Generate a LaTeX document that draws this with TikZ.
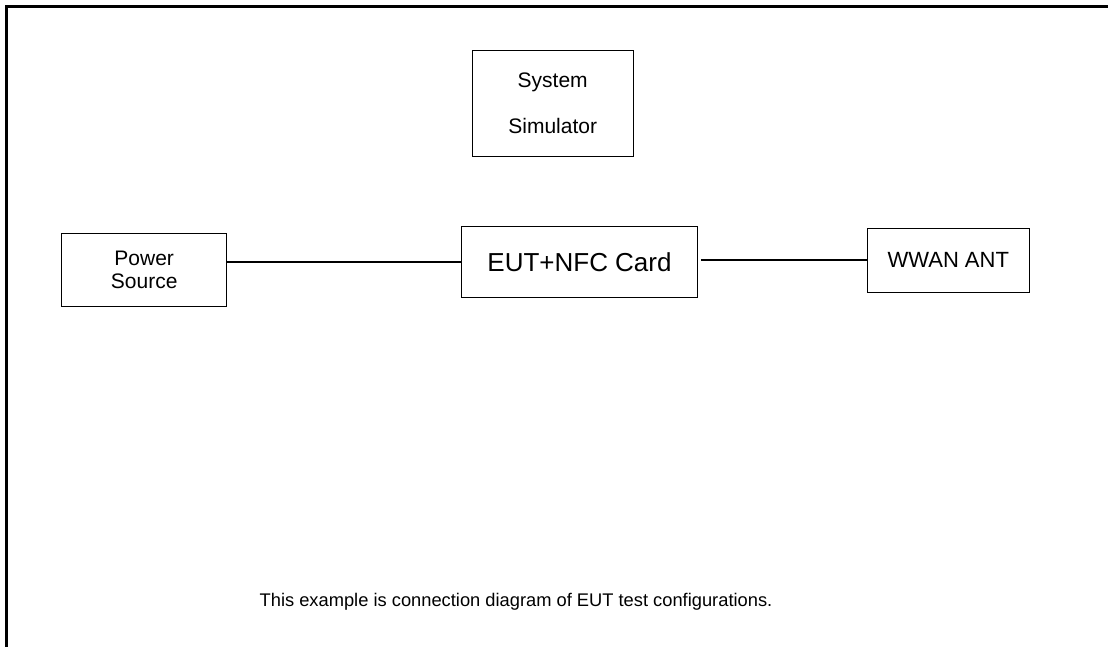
\documentclass[tikz,border=0pt]{standalone}
\usepackage{fontspec}
\setmainfont{Liberation Sans}
\begin{document}
\begin{tikzpicture}[x=1pt,y=-1pt,
  box/.style={draw=black,line width=0.9pt,rectangle,inner sep=0pt,align=center},
  conn/.style={draw=black,line width=1.2pt},
  frame/.style={draw=black,line width=2.5pt}]
\useasboundingbox (0,0) rectangle (1108,647);
\draw[frame] (6.3,647) -- (6.3,6.3) -- (1108,6.3);
\node[box,minimum width=161.5pt,minimum height=106pt,font=\fontsize{21}{23}\selectfont] (sim) at (552.7,103) {System\\[23pt]Simulator};
\node[box,minimum width=165pt,minimum height=73.7pt,font=\fontsize{21}{23}\selectfont] (power) at (144.2,270) {Power\\Source};
\node[box,minimum width=235.6pt,minimum height=71.7pt,font=\fontsize{26}{30}\selectfont] (eut) at (579.5,262) {EUT+NFC Card};
\node[box,minimum width=161.3pt,minimum height=64pt,font=\fontsize{22}{26}\selectfont] (wwan) at (948.3,260) {WWAN ANT};
\draw[conn] (eut.west -| power.east) -- (eut.west);
\draw[conn,shorten <=3pt] (wwan.west -| eut.east) -- (wwan.west);
\node[anchor=base,inner sep=0pt,font=\fontsize{18.3}{22}\selectfont] (cap) at (516,606) {This example is connection diagram of EUT test configurations.};
\end{tikzpicture}
\end{document}
